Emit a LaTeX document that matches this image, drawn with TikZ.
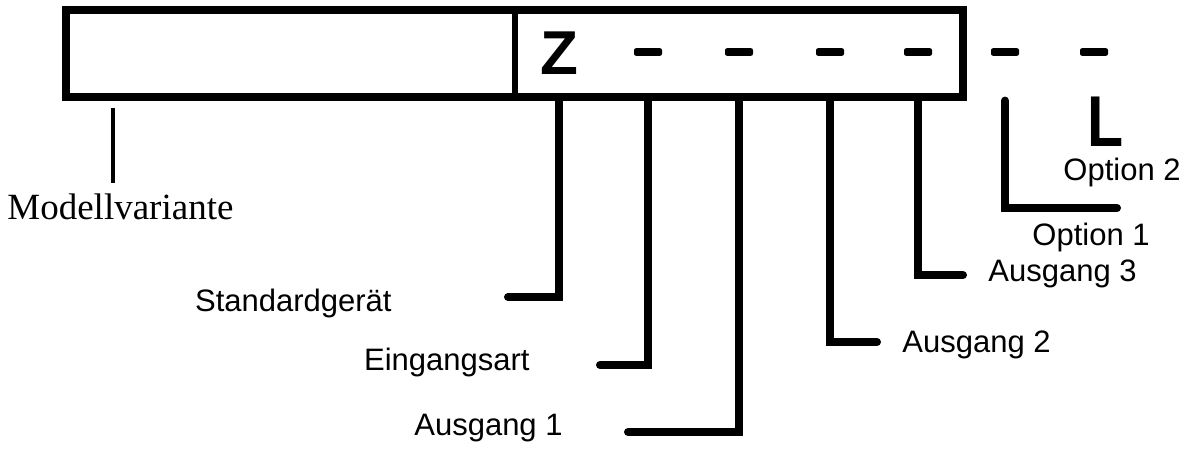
\documentclass[tikz,border=0pt]{standalone}
\usepackage{fontspec}
\setmainfont{Liberation Serif}
\setsansfont{Liberation Sans}
\usetikzlibrary{positioning,calc}

\begin{document}
\begin{tikzpicture}[
    x={(0.5pt,0)}, y={(0,-0.5pt)},
    codebox/.style={draw, line width=3.6pt, minimum width=448.5pt, minimum height=43.5pt, inner sep=0pt},
    leg/.style={line width=4pt, line cap=round},
    thinleg/.style={line width=2.4pt},
    dashbar/.style={fill, rounded corners=1pt, minimum width=14pt, minimum height=3.8pt, inner sep=0pt},
    letter/.style={font=\sffamily\bfseries\fontsize{31}{31}\selectfont, inner sep=0pt},
    lab/.style={font=\sffamily\fontsize{15.5}{18}\selectfont, inner sep=0pt},
    seriflab/.style={font=\rmfamily\fontsize{18.5}{20}\selectfont, inner sep=0pt},
]
    \useasboundingbox (0,0) rectangle (1198,449);
    % Code frame
    \node[codebox] (box) at (514.5,53.5) {};
    \coordinate (sep) at (515,0);
    \draw[line width=3.4pt] (box.north -| sep) -- (box.south -| sep);
    % Code positions
    \node[letter, anchor=base] (z) at (559,75) {Z};
    \foreach \x [count=\i] in {648,739,830,918,1005,1094}
        \node[dashbar] (d\i) at (\x,52) {};
    \node[letter, font=\sffamily\bfseries\fontsize{36}{36}\selectfont, anchor=base west] (l) at (1087,147) {\scalebox{0.82}[1]{L}};
    % Labels
    \node[seriflab, anchor=base west] (mv) at (7,219) {Modellvariante};
    \node[lab, anchor=base east] (std) at (392,311) {Standardgerät};
    \node[lab, anchor=base east] (ein) at (530,370) {Eingangsart};
    \node[lab, anchor=base east] (aus1) at (563,435) {Ausgang 1};
    \node[lab, anchor=base west] (aus2) at (902,352) {Ausgang 2};
    \node[lab, anchor=base west] (aus3) at (988,281) {Ausgang 3};
    \node[lab, anchor=base west] (opt1) at (1032,245) {Option 1};
    \node[lab, anchor=base west] (opt2) at (1063,180) {Option 2};
    % Leg ends
    \coordinate (e0) at (508,297);
    \coordinate (e1) at (600,365);
    \coordinate (e2) at (628,432);
    \coordinate (e3) at (877,342);
    \coordinate (e4) at (963,275);
    \coordinate (e5) at (1117,208);
    \coordinate (mvtop) at (113,108);
    % Connectors
    \draw[thinleg, shorten >=5pt] (mvtop) -- (mvtop |- mv.north);
    \draw[leg] (z |- box.south) |- (e0);
    \draw[leg] (d1 |- box.south) |- (e1);
    \draw[leg] (d2 |- box.south) |- (e2);
    \draw[leg] (d3 |- box.south) |- (e3);
    \draw[leg] (d4 |- box.south) |- (e4);
    \draw[leg] (d5 |- box.south) |- (e5);
\end{tikzpicture}
\end{document}
